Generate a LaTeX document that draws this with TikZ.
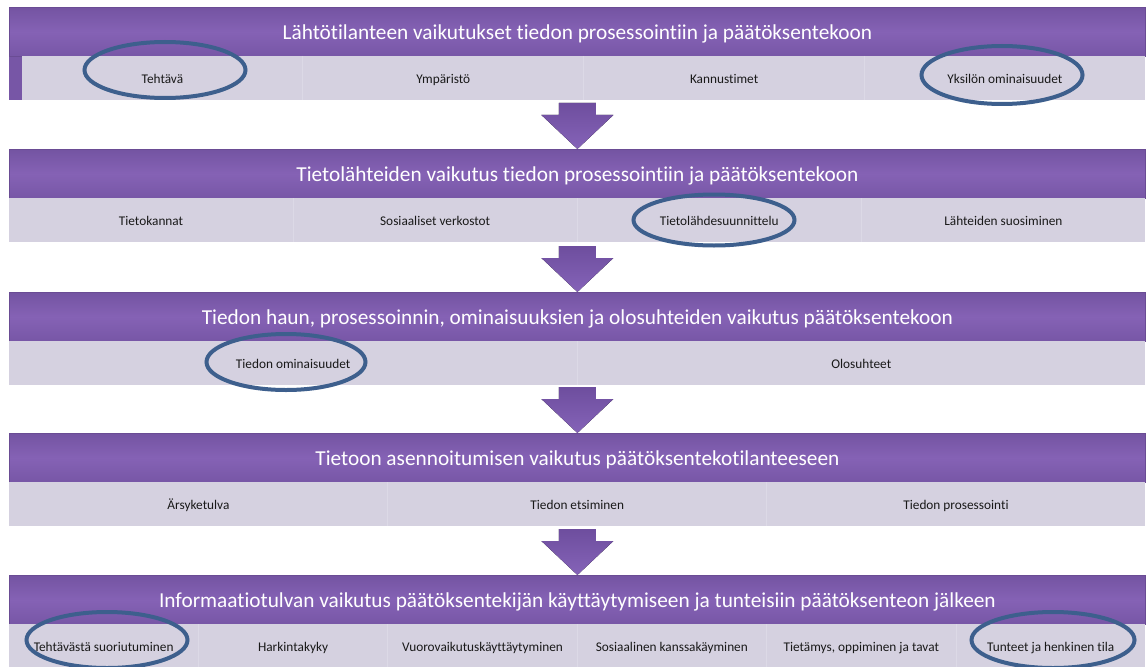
\documentclass[tikz,border=0pt]{standalone}
\usepackage{fontspec}
\setmainfont{Carlito}[Ligatures={NoCommon}]
\usetikzlibrary{calc,shapes.geometric}
\definecolor{hdtop}{HTML}{7454A2}
\definecolor{hdmid}{HTML}{8562B5}
\definecolor{hdbot}{HTML}{7756A6}
\definecolor{hdedge}{HTML}{6A4C94}
\definecolor{rowgray}{HTML}{D5D1E0}
\definecolor{sepline}{HTML}{DCD9E6}
\definecolor{ringblue}{HTML}{3D5F8D}
\definecolor{arrtop}{HTML}{6E4E9E}
\definecolor{arrbot}{HTML}{8563B8}
\begin{document}
\begin{tikzpicture}[x=1pt,y=-1pt,
  head/.style={anchor=north west, minimum width=1136pt, minimum height=49pt, inner sep=0pt,
    top color=hdtop, bottom color=hdbot, middle color=hdmid, draw=hdedge, line width=0.8pt,
    text=white, font=\fontsize{21.3}{25}\selectfont, text height=14pt, text depth=4pt},
  title/.style={text=white, font=\fontsize{21.3}{25}\selectfont, inner sep=0pt},
  row/.style={anchor=north west, minimum height=44pt, inner sep=0pt, fill=rowgray},
  cell/.style={font=\fontsize{13.3}{16}\selectfont, text=black!90, inner sep=1pt,
    text height=9.5pt, text depth=2.8pt, yshift=-2pt},
  ring/.style={ellipse, draw=ringblue, line width=4pt, inner sep=0pt},
  sep/.style={draw=sepline, line width=0.8pt},
  blockarrow/.style={top color=arrtop, bottom color=arrbot, draw=none}
]
\useasboundingbox (0,0) rectangle (1147,666);
\fill[white] (0,0) rectangle (1147,666);

% band 1
\node[head] (h1) at (9,7) {};
\node[title, yshift=-2pt] (t1) at (h1.center) {Lähtötilanteen vaikutukset tiedon prosessointiin ja päätöksentekoon};
\node[row, minimum width=1123pt] (r1) at (22,56) {};
\fill[hdbot] (h1.south west) rectangle (r1.south west);
% band 2
\node[head] (h2) at (9,149) {};
\node[title, yshift=-2pt] (t2) at (h2.center) {Tietolähteiden vaikutus tiedon prosessointiin ja päätöksentekoon};
\node[row, minimum width=1136pt] (r2) at (9,198) {};
% band 3
\node[head] (h3) at (9,292) {};
\node[title, yshift=-2pt] (t3) at (h3.center) {Tiedon haun, prosessoinnin, ominaisuuksien ja olosuhteiden vaikutus päätöksentekoon};
\node[row, minimum width=1136pt] (r3) at (9,341) {};
% band 4
\node[head] (h4) at (9,433) {};
\node[title, yshift=-2pt] (t4) at (h4.center) {Tietoon asennoitumisen vaikutus päätöksentekotilanteeseen};
\node[row, minimum width=1136pt] (r4) at (9,482) {};
% band 5
\node[head] (h5) at (9,575) {};
\node[title, yshift=-2pt] (t5) at (h5.center) {Informaatiotulvan vaikutus päätöksentekijän käyttäytymiseen ja tunteisiin päätöksenteon jälkeen};
\node[row, minimum width=1136pt] (r5) at (9,624) {};

% separators
\foreach \r/\n in {r1/4,r2/4,r3/2,r4/3,r5/6}{
  \pgfmathtruncatemacro{\m}{\n-1}
  \foreach \k in {1,...,\m}{
    \pgfmathsetmacro{\f}{\k/\n}
    \draw[sep] ($(\r.north west)!\f!(\r.north east)$) -- ($(\r.south west)!\f!(\r.south east)$);
  }
}

% cells
\node[cell] (c11) at ($(r1.west)!0.125!(r1.east)$) {Tehtävä};
\node[cell] (c12) at ($(r1.west)!0.375!(r1.east)$) {Ympäristö};
\node[cell] (c13) at ($(r1.west)!0.625!(r1.east)$) {Kannustimet};
\node[cell] (c14) at ($(r1.west)!0.875!(r1.east)$) {Yksilön ominaisuudet};

\node[cell] (c21) at ($(r2.west)!0.125!(r2.east)$) {Tietokannat};
\node[cell] (c22) at ($(r2.west)!0.375!(r2.east)$) {Sosiaaliset verkostot};
\node[cell] (c23) at ($(r2.west)!0.625!(r2.east)$) {Tietolähdesuunnittelu};
\node[cell] (c24) at ($(r2.west)!0.875!(r2.east)$) {Lähteiden suosiminen};

\node[cell] (c31) at ($(r3.west)!0.25!(r3.east)$) {Tiedon ominaisuudet};
\node[cell] (c32) at ($(r3.west)!0.75!(r3.east)$) {Olosuhteet};

\node[cell] (c41) at ($(r4.west)!0.1667!(r4.east)$) {Ärsyketulva};
\node[cell] (c42) at ($(r4.west)!0.5!(r4.east)$) {Tiedon etsiminen};
\node[cell] (c43) at ($(r4.west)!0.8333!(r4.east)$) {Tiedon prosessointi};

\node[cell] (c51) at ($(r5.west)!0.0833!(r5.east)$) {Tehtävästä suoriutuminen};
\node[cell] (c52) at ($(r5.west)!0.25!(r5.east)$) {Harkintakyky};
\node[cell] (c53) at ($(r5.west)!0.4167!(r5.east)$) {Vuorovaikutuskäyttäytyminen};
\node[cell] (c54) at ($(r5.west)!0.5833!(r5.east)$) {Sosiaalinen kanssakäyminen};
\node[cell] (c55) at ($(r5.west)!0.75!(r5.east)$) {Tietämys, oppiminen ja tavat};
\node[cell] (c56) at ($(r5.west)!0.9167!(r5.east)$) {Tunteet ja henkinen tila};

% block arrows between bands
\foreach \t in {h2,h3,h4,h5}{
  \fill[blockarrow] ($(\t.north)+(-18.5,-46)$) -- ($(\t.north)+(18.5,-46)$)
    -- ($(\t.north)+(18.5,-34)$) -- ($(\t.north)+(36,-34)$) -- (\t.north)
    -- ($(\t.north)+(-36,-34)$) -- ($(\t.north)+(-18.5,-34)$) -- cycle;
}

% highlight rings
\node[ring, minimum width=161pt, minimum height=56pt] (e1) at (165,70) {};
\node[ring, minimum width=161pt, minimum height=58pt] (e2) at (1002,75) {};
\node[ring, minimum width=161pt, minimum height=51pt] (e3) at (714,220) {};
\node[ring, minimum width=159pt, minimum height=56pt] (e4) at (286,362) {};
\node[ring, minimum width=161pt, minimum height=56pt] (e5) at (107,640) {};
\node[ring, minimum width=163pt, minimum height=56pt] (e6) at (1053,640) {};
\end{tikzpicture}
\end{document}
